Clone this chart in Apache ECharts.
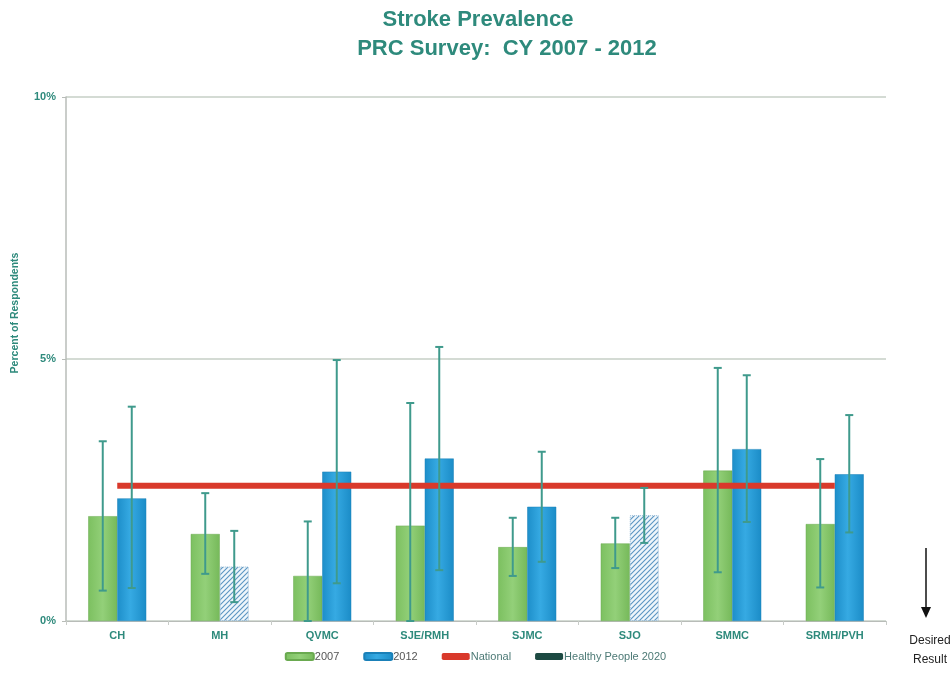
<!DOCTYPE html>
<html>
<head>
<meta charset="utf-8">
<script src="https://cdn.jsdelivr.net/npm/echarts@6/dist/echarts.min.js"></script>
<style>
html,body{margin:0;padding:0;background:#fff;}
#chart{width:951px;height:692px;}
</style>
</head>
<body>
<div id="chart"></div>
<script>
const categories = ['CH','MH','QVMC','SJE/RMH','SJMC','SJO','SMMC','SRMH/PVH'];
const values2007 = [2.0, 1.66, 0.86, 1.82, 1.41, 1.48, 2.87, 1.85];
const low2007    = [0.58, 0.90, 0.0, 0.0, 0.86, 1.01, 0.93, 0.64];
const high2007   = [3.43, 2.44, 1.90, 4.16, 1.97, 1.97, 4.83, 3.09];
const values2012 = [2.34, 1.04, 2.85, 3.10, 2.18, 2.02, 3.28, 2.80];
const low2012    = [0.63, 0.36, 0.72, 0.97, 1.13, 1.49, 1.89, 1.69];
const high2012   = [4.09, 1.72, 4.98, 5.23, 3.23, 2.54, 4.69, 3.93];
const hatched2012 = [false, true, false, false, false, true, false, false];
const nationalValue = 2.58;
const yTicks = [0, 5, 10];

const teal = '#2e8a7c';
const errColor = '#3f9a8c';

function makeHatch(){
  const c = document.createElement('canvas');
  c.width = 5; c.height = 5;
  const g = c.getContext('2d');
  g.fillStyle = '#eef6fb';
  g.fillRect(0,0,5,5);
  g.strokeStyle = '#5b95c2';
  g.lineWidth = 1.1;
  g.beginPath();
  g.moveTo(0,5); g.lineTo(5,0);
  g.moveTo(-2.5,2.5); g.lineTo(2.5,-2.5);
  g.moveTo(2.5,7.5); g.lineTo(7.5,2.5);
  g.stroke();
  return c;
}
const hatch = makeHatch();

const greenGrad = {type:'linear',x:0,y:0,x2:1,y2:0,colorStops:[
  {offset:0,color:'#7cc060'},{offset:0.5,color:'#93d079'},{offset:1,color:'#76b95a'}]};
const blueGrad = {type:'linear',x:0,y:0,x2:1,y2:0,colorStops:[
  {offset:0,color:'#1d8ec9'},{offset:0.45,color:'#36aae3'},{offset:1,color:'#1b8cc7'}]};

const BAR_W = 29;

function errData(lo, hi){
  return categories.map((c,i)=>[i, lo[i], hi[i]]);
}
function errRender(offset){
  return function(params, api){
    const i = api.value(0);
    const p1 = api.coord([i, api.value(1)]);
    const p2 = api.coord([i, api.value(2)]);
    const x = p1[0] + offset;
    const cap = 4;
    const st = {stroke: errColor, lineWidth: 2};
    return {type:'group', children:[
      {type:'line', shape:{x1:x,y1:p1[1],x2:x,y2:p2[1]}, style:st},
      {type:'line', shape:{x1:x-cap,y1:p1[1],x2:x+cap,y2:p1[1]}, style:st},
      {type:'line', shape:{x1:x-cap,y1:p2[1],x2:x+cap,y2:p2[1]}, style:st}
    ]};
  };
}

const chart = echarts.init(document.getElementById('chart'));
chart.setOption({
  animation:false,
  backgroundColor:'#fff',
  title:[
    {text:'Stroke Prevalence', left:473, top:4, textAlign:'center',
     textStyle:{color:teal,fontFamily:'Liberation Sans, Arial',fontWeight:'bold',fontSize:22}},
    {text:'PRC Survey:  CY 2007 - 2012', left:502, top:33, textAlign:'center',
     textStyle:{color:teal,fontFamily:'Liberation Sans, Arial',fontWeight:'bold',fontSize:22}}
  ],
  legend:{
    top:646, left:'center', itemGap:24, itemWidth:28, itemHeight:7, icon:'roundRect',
    textStyle:{fontFamily:'Liberation Sans, Arial',fontSize:11,color:'#4d7a76', padding:[0,0,0,-4]},
    data:[
      {name:'2007', textStyle:{color:'#555'}},
      {name:'2012', textStyle:{color:'#555'}},
      {name:'National'},
      {name:'Healthy People 2020'}
    ]
  },
  grid:{left:66, right:65, top:97, bottom:71},
  xAxis:{
    type:'category', data:categories,
    axisLine:{lineStyle:{color:'#b8bcb8',width:1}},
    axisTick:{show:true,length:4,lineStyle:{color:'#c8ccc8'}},
    axisLabel:{color:teal,fontFamily:'Liberation Sans, Arial',fontWeight:'bold',fontSize:11,margin:9}
  },
  yAxis:{
    type:'value', min:yTicks[0], max:yTicks[2], interval:5,
    axisLine:{show:true,lineStyle:{color:'#b8bcb8',width:1.5}},
    axisTick:{show:true,length:4,lineStyle:{color:'#b8bcb8'}},
    axisLabel:{color:teal,fontFamily:'Liberation Sans, Arial',fontWeight:'bold',fontSize:11,margin:10,
      formatter:v=>v+'%'},
    splitLine:{lineStyle:{color:'#c6cfc6',width:1.5}}
  },
  graphic:[
    {type:'text', rotation:Math.PI/2, x:15, y:313,
     style:{text:'Percent of Respondents', fill:teal, font:'bold 10.5px "Liberation Sans", Arial', textAlign:'center', textVerticalAlign:'middle'}},
    {type:'line', shape:{x1:926,y1:548,x2:926,y2:608}, style:{stroke:'#111',lineWidth:1.5}},
    {type:'polygon', shape:{points:[[921,607],[931,607],[926,618]]}, style:{fill:'#111'}},
    {type:'text', x:930, y:641, style:{text:'Desired', fill:'#222', font:'12px "Liberation Sans", Arial', textAlign:'center', textVerticalAlign:'middle'}},
    {type:'text', x:930, y:660, style:{text:'Result', fill:'#222', font:'12px "Liberation Sans", Arial', textAlign:'center', textVerticalAlign:'middle'}}
  ],
  series:[
    {name:'2007', type:'bar', barWidth:BAR_W, barGap:'0%', z:2,
     itemStyle:{color:greenGrad, borderColor:'#6aaa50', borderWidth:0.5},
     data:values2007},
    {name:'2012', type:'bar', barWidth:BAR_W, barGap:'0%', z:2,
     itemStyle:{color:blueGrad, borderColor:'#1a80b8', borderWidth:0.5},
     data:values2012.map((v,i)=> hatched2012[i] ? {value:v, itemStyle:{color:{image:hatch,repeat:'repeat'}, borderColor:'#8db6d4', borderType:'dotted', borderWidth:1}} : v)},
    {name:'National', type:'line', z:5, symbol:'none', data:categories.map(()=>nationalValue),
     lineStyle:{color:'#d9392b',width:6}, itemStyle:{color:'#d9392b'}},
    {name:'Healthy People 2020', type:'line', data:[], symbol:'none',
     lineStyle:{color:'#1d4a42',width:5}, itemStyle:{color:'#1d4a42'}},
    {name:'err2007', type:'custom', z:6, renderItem:errRender(-BAR_W/2),
     encode:{x:0,y:[1,2]}, data:errData(low2007, high2007)},
    {name:'err2012', type:'custom', z:6, renderItem:errRender(BAR_W/2),
     encode:{x:0,y:[1,2]}, data:errData(low2012, high2012)}
  ]
});
</script>
</body>
</html>
